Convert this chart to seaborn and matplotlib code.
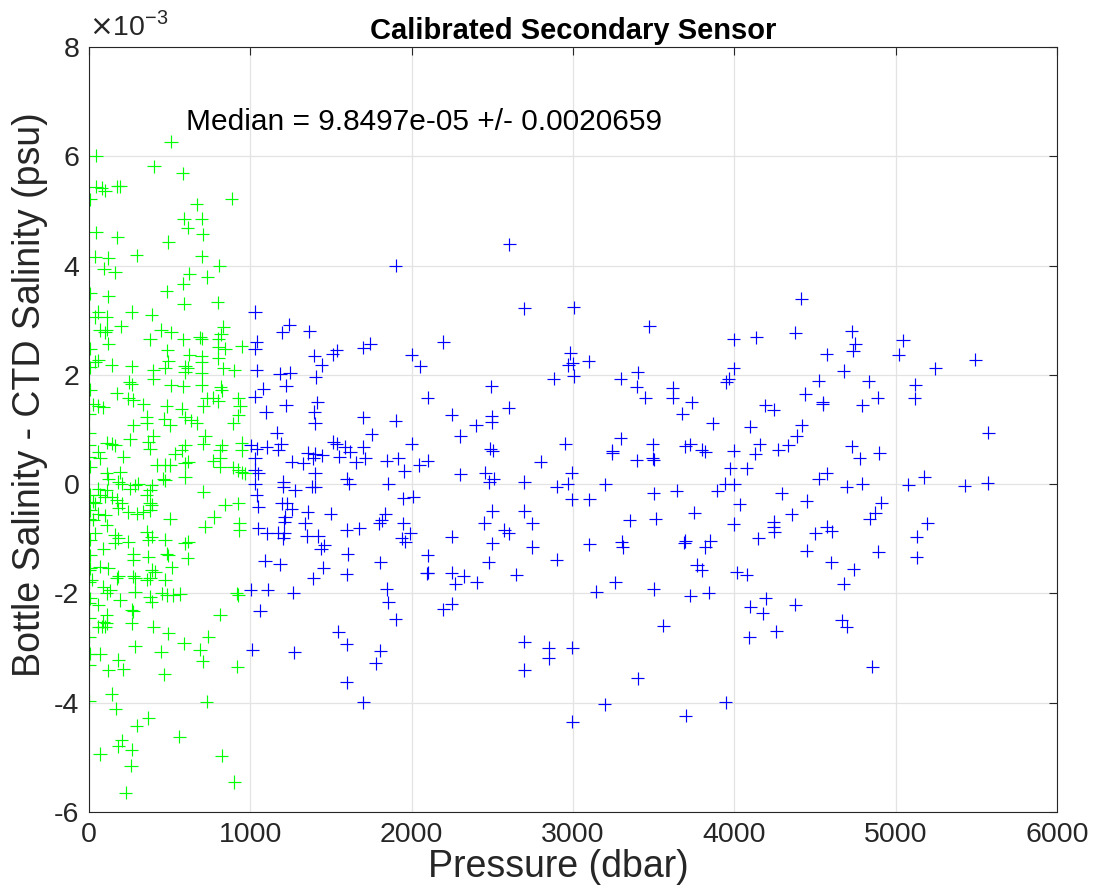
import numpy as np
import pandas as pd
import matplotlib
matplotlib.use("Agg")
import matplotlib.pyplot as plt
import seaborn as sns

# --- data (salinity differences in units of 1e-3 psu) ---
# shallow bottles (green)
green_pres = [508, 43, 403, 581, 43, 79, 99, 175, 192, 6,
              885, 668, 589, 698, 612, 705, 43, 175, 492, 296,
              698, 37, 120, 808, 93, 161, 622, 585, 733, 6,
              120, 482, 589, 798, 58, 37, 110, 265, 389, 198,
              68, 110, 99, 446, 508, 833, 818, 802, 688, 698,
              585, 378, 120, 946, 843, 802, 6, 485, 622, 698,
              802, 58, 37, 141, 265, 492, 471, 595, 612, 595,
              698, 698, 833, 901, 399, 399, 6, 250, 265, 508,
              585, 698, 816, 822, 6, 172, 244, 275, 730, 771,
              802, 337, 482, 709, 926, 936, 27, 58, 89, 0,
              575, 595, 632, 668, 358, 358, 467, 502, 926, 895,
              275, 0, 399, 368, 254, 719, 709, 110, 141, 161,
              0, 595, 575, 822, 812, 946, 946, 378, 58, 68,
              213, 533, 771, 812, 895, 926, 946, 967, 420, 471,
              502, 595, 616, 6, 0, 110, 120, 192, 461, 595,
              812,
              182, 203, 110, 58, 285, 306, 254, 389, 378, 471,
              709, 6, 27, 0, 37, 68, 99, 141, 172, 203,
              182, 244, 296, 337, 378, 358, 378, 389, 843, 926,
              6, 58, 99, 0, 0, 27, 502, 775, 110, 719,
              932, 932, 37, 6, 161, 182, 161, 244, 358, 389,
              368, 471, 595, 616, 89, 275, 275, 368, 482, 492,
              612, 6, 68, 120, 6, 0, 389, 409, 378, 513,
              182, 172, 275, 285, 358, 471, 17, 0, 89, 130,
              110, 285, 451, 482, 523, 564, 378, 389, 6, 0,
              58, 192, 915, 926, 265, 275, 110, 0, 812, 89,
              110, 58, 79, 99, 265, 399, 492, 740, 0, 6,
              285, 446, 589, 688, 705, 68, 182, 213, 120, 919,
              0, 467, 141, 0, 730, 165, 368, 296, 560, 203,
              182, 265, 68, 822, 260, 901, 227]
green_diff = [6.27, 6.01, 5.82, 5.69, 5.44, 5.42, 5.37, 5.45, 5.45, 5.21,
              5.22, 5.12, 4.86, 4.86, 4.69, 4.57, 4.61, 4.52, 4.43, 4.19,
              4.17, 4.16, 4.14, 4.00, 3.94, 3.88, 3.85, 3.67, 3.79, 3.49,
              3.44, 3.53, 3.30, 3.33, 3.15, 3.06, 3.06, 3.15, 3.10, 2.89,
              2.82, 2.83, 2.78, 2.82, 2.78, 2.88, 2.74, 2.66, 2.69, 2.66,
              2.65, 2.65, 2.57, 2.52, 2.48, 2.51, 2.48, 2.45, 2.37, 2.34,
              2.30, 2.27, 2.24, 2.18, 2.16, 2.25, 2.13, 2.16, 2.13, 2.05,
              2.24, 2.03, 2.12, 2.08, 2.08, 1.93, 2.14, 1.87, 1.83, 1.81,
              1.79, 1.81, 1.78, 1.72, 1.73, 1.66, 1.57, 1.54, 1.57, 1.58,
              1.52, 1.46, 1.43, 1.43, 1.57, 1.43, 1.46, 1.43, 1.41, 1.29,
              1.38, 1.22, 1.17, 1.12, 1.23, 1.11, 1.20, 1.08, 1.26, 1.11,
              1.08, 0.93, 0.88, 0.77, 0.82, 0.88, 0.74, 0.76, 0.74, 0.71,
              0.71, 0.71, 0.62, 0.71, 0.62, 0.76, 0.62, 0.65, 0.59, 0.47,
              0.50, 0.56, 0.43, 0.47, 0.31, 0.26, 0.22, 0.20, 0.35, 0.35,
              0.35, 0.38, 0.41, 0.32, 0.50, 0.20, 0.10, 0.22, 0.10, 0.13,
              0.32,
              0.04, 0.01, -0.11, -0.08, -0.02, 0.01, -0.08, -0.02, -0.11, 0.07,
              -0.14, -0.20, -0.32, -0.35, -0.35, -0.20, -0.23, -0.24, -0.29, -0.35,
              -0.44, -0.51, -0.54, -0.51, -0.48, -0.20, -0.35, -0.38, -0.38, -0.35,
              -0.48, -0.54, -0.57, -0.63, -0.66, -0.65, -0.63, -0.60, -0.75, -0.78,
              -0.72, -0.84, -0.90, -1.02, -0.93, -0.99, -1.07, -1.05, -0.87, -0.96,
              -1.02, -1.02, -1.08, -1.05, -1.18, -1.27, -1.38, -1.33, -1.27, -1.30,
              -1.36, -1.30, -1.51, -1.54, -1.54, -1.57, -1.57, -1.60, -1.72, -1.52,
              -1.69, -1.72, -1.69, -1.72, -1.75, -1.75, -1.75, -1.79, -1.88, -1.94,
              -2.00, -1.97, -2.00, -2.03, -2.03, -2.01, -2.06, -2.15, -2.09, -2.18,
              -2.21, -2.12, -2.00, -2.03, -2.30, -2.33, -2.39, -2.45, -2.39, -2.52,
              -2.55, -2.61, -2.61, -2.61, -2.55, -2.61, -2.73, -2.79, -2.79, -3.10,
              -2.97, -3.07, -2.91, -3.03, -3.24, -3.11, -3.22, -3.39, -3.41, -3.34,
              -3.31, -3.48, -3.84, -3.96, -3.98, -4.11, -4.28, -4.42, -4.62, -4.69,
              -4.80, -4.86, -4.94, -4.97, -5.15, -5.45, -5.65]

# deep bottles (blue)
blue_pres = [1901, 2604, 2699, 3003, 1536, 1511, 1701, 1742, 2197, 2000,
             2052, 2982, 2971, 2999, 2879, 3003, 2492, 2098, 2602, 1701,
             1901, 2248, 2496, 2496, 2399, 1752, 2300, 2000, 2951, 1515,
             1536, 1587, 1618, 1552, 1701, 1711, 1655, 2486, 2503, 1846,
             1918, 1953, 2048, 2099, 2300, 2800, 2455, 2507, 2482, 2992,
             1598, 1612, 1856, 2697, 2899, 2966,
             1949, 2011, 1835, 1814, 1800, 1598, 1676, 1949, 1990, 1939,
             1959, 2248, 2500, 2697, 2449, 2573, 2600, 2748, 2500, 2748,
             2992, 1604, 1804, 2100, 2100, 2095, 1598, 2248, 2269, 2321,
             2403, 2476, 2647, 2899, 1846, 1856, 1901, 2197, 2248, 1546,
             1598, 1804, 1777, 1598, 1701, 2699, 2699, 2848, 2848, 2996,
             2996,
             3096, 4414, 3472, 3995, 4135, 4377, 3995, 3964, 3949, 4573,
             3296, 3401, 3395, 3447, 3618, 3618, 3736, 3678, 3866, 4098,
             4191, 4243, 4439, 4522, 4548, 4548, 4418, 4387, 3296, 3244,
             3244, 3494, 3494, 3500, 3395, 3695, 3726, 3798, 3819, 3995,
             4156, 4129, 4077, 3974, 4273, 4335, 4522, 4573, 3199,
             3499, 3643, 3895, 3943, 3999, 4294, 3100, 3350, 3513, 3751,
             4032, 3995, 4449, 4356, 4243, 4243, 4247, 4149, 4501, 4573,
             4449, 3100, 3302, 3308, 3695, 3689, 3850, 3819, 3768, 3798,
             4015, 4077, 3261, 3143, 3499, 3726, 3840, 4195, 4098, 4175,
             4377, 3560, 4092, 4259, 3401, 3195, 3947, 3699,
             4728, 4749, 4735, 5045, 5018, 5493, 5245, 4677, 4832, 5121,
             5117, 4794, 4889, 5575, 4728, 4776, 4898,
             4697, 4794, 5079, 5177, 5427, 5569, 4910, 4873, 4838, 5197,
             5131, 5131, 4604, 4893, 4600, 4739, 4677, 4666, 4697, 4856,
             1029, 1240, 1198, 1364, 1040, 1029, 1397, 1443, 1040, 1184,
             1246, 1405, 1081, 1221, 1029, 1221, 1415, 1397, 1401, 1097,
             1163, 1002, 1040, 1101, 1190, 1174, 1029, 1356, 1401, 1446,
             1391, 1257, 1329, 1029, 1050, 1401,
             1029, 1040, 1050, 1381, 1401, 1205, 1205, 1277, 1195, 1226,
             1257, 1215, 1356, 1498, 1211, 1339, 1050, 1101, 1170, 1211,
             1205, 1349, 1422, 1459, 1438, 1091, 1184, 1453, 1391, 1002,
             1108, 1267, 1060, 1013, 1273]
blue_diff = [4.00, 4.39, 3.22, 3.24, 2.45, 2.38, 2.50, 2.57, 2.60, 2.37,
             2.16, 2.40, 2.18, 2.21, 1.93, 1.98, 1.79, 1.58, 1.40, 1.22,
             1.16, 1.27, 1.24, 1.13, 1.08, 0.91, 0.88, 0.74, 0.74, 0.77,
             0.74, 0.68, 0.59, 0.50, 0.68, 0.47, 0.40, 0.65, 0.61, 0.43,
             0.47, 0.24, 0.35, 0.43, 0.18, 0.41, 0.21, 0.10, 0.04, 0.21,
             0.10, 0.01, 0.01, 0.04, -0.05, 0.01,
             -0.26, -0.23, -0.54, -0.66, -0.72, -0.84, -0.81, -0.72, -0.90, -0.99,
             -1.05, -0.96, -0.49, -0.49, -0.71, -0.84, -0.90, -0.72, -1.08, -1.15,
             -0.28, -1.28, -1.43, -1.30, -1.62, -1.63, -1.65, -1.62, -1.82, -1.68,
             -1.80, -1.43, -1.66, -1.38, -1.92, -2.16, -2.47, -2.29, -2.19, -2.70,
             -2.93, -3.05, -3.28, -3.63, -3.99, -2.88, -3.40, -2.99, -3.19, -2.99,
             -4.35,
             2.25, 3.39, 2.89, 2.65, 2.69, 2.77, 2.12, 1.93, 1.87, 2.38,
             1.93, 2.05, 1.78, 1.58, 1.76, 1.58, 1.50, 1.29, 1.11, 1.05,
             1.44, 1.36, 1.65, 1.89, 1.50, 1.46, 1.08, 0.88, 0.84, 0.61,
             0.57, 0.73, 0.47, 0.45, 0.44, 0.69, 0.73, 0.63, 0.59, 0.61,
             0.73, 0.56, 0.29, 0.29, 0.63, 0.71, 0.10, 0.20, 0.00,
             -0.17, -0.12, -0.12, 0.01, 0.00, -0.17, -0.28, -0.66, -0.63, -0.52,
             -0.37, -0.73, -0.31, -0.55, -0.69, -0.78, -0.87, -0.99, -0.90, -0.78,
             -1.22, -1.10, -1.05, -1.15, -1.04, -1.07, -1.04, -1.15, -1.48, -1.57,
             -1.61, -1.66, -1.80, -1.97, -1.92, -2.04, -1.99, -2.09, -2.24, -2.36,
             -2.21, -2.59, -2.80, -2.69, -3.55, -4.03, -3.99, -4.24,
             2.80, 2.57, 2.44, 2.63, 2.37, 2.28, 2.12, 2.07, 1.88, 1.82,
             1.57, 1.44, 1.58, 0.94, 0.69, 0.47, 0.57,
             -0.05, 0.01, -0.01, 0.13, -0.03, 0.02, -0.34, -0.52, -0.63, -0.72,
             -0.96, -1.34, -0.86, -1.24, -1.43, -1.56, -1.82, -2.49, -2.61, -3.34,
             3.15, 2.92, 2.78, 2.80, 2.61, 2.48, 2.35, 2.18, 2.08, 2.02,
             2.04, 1.96, 1.75, 1.80, 1.60, 1.44, 1.50, 1.32, 1.11, 1.32,
             0.94, 0.71, 0.65, 0.68, 0.74, 0.63, 0.47, 0.57, 0.55, 0.53,
             0.47, 0.41, 0.38, 0.26, 0.20, 0.20,
             0.01, -0.20, -0.41, -0.05, -0.05, 0.04, -0.05, -0.11, -0.35, -0.35,
             -0.46, -0.60, -0.51, -0.54, -0.69, -0.72, -0.81, -0.90, -0.89, -0.90,
             -0.99, -0.95, -0.95, -1.12, -1.18, -1.40, -1.47, -1.53, -1.72, -1.93,
             -1.93, -1.99, -2.32, -3.03, -3.08]

assert len(green_pres) == len(green_diff)
assert len(blue_pres) == len(blue_diff)

median_txt = "Median = 9.8497e-05 +/- 0.0020659"

df = pd.DataFrame({
    "pressao": green_pres + blue_pres,
    "delta": green_diff + blue_diff,
    "grupo": ["raso"] * len(green_pres) + ["fundo"] * len(blue_pres),
})

# --- style ---
sns.set_style("white")
plt.rcParams["font.family"] = ["Liberation Sans", "DejaVu Sans"]
plt.rcParams["axes.unicode_minus"] = False

fig = plt.figure(figsize=(10.98, 8.92), dpi=100)
ax = fig.add_axes([0.0811, 0.0897, 0.8816, 0.8576])

sns.scatterplot(data=df, x="pressao", y="delta", hue="grupo",
                palette={"raso": (0, 1, 0), "fundo": (0, 0, 1)},
                marker="+", s=90, linewidth=0.85, legend=False, ax=ax)

ax.set_xlim(0, 6000)
ax.set_ylim(-6, 8)
ax.set_xticks(np.arange(0, 6001, 1000))
ax.set_yticks(np.arange(-6, 9, 2))
ax.grid(True, color="#e3e3e3", linewidth=0.9)
ax.set_axisbelow(True)

for sp in ax.spines.values():
    sp.set_color("#262626")
    sp.set_linewidth(0.8)
    sp.set_visible(True)

ax.tick_params(direction="in", length=6, width=0.8, colors="#262626",
               labelsize=20.5, top=True, right=True, pad=7)

ax.set_xlabel("Pressure (dbar)", fontsize=27, color="#262626")
ax.set_ylabel("Bottle Salinity - CTD Salinity (psu)", fontsize=27,
              color="#262626")
# MATLAB puts the labels a little off centre
ax.xaxis.set_label_coords(0.4845, -0.049)
ax.yaxis.set_label_coords(-0.042, 0.546)

ax.set_title("Calibrated Secondary Sensor", fontsize=21, fontweight="bold",
             color="black", pad=6)
ax.text(0.0, 1.008, r"$\times$10$^{\mathregular{-3}}$", transform=ax.transAxes,
        fontsize=20.5, color="#262626", ha="left", va="bottom")
ax.text(600, 6.63, median_txt, fontsize=21.5, color="black",
        ha="left", va="center")

plt.savefig("out.png", dpi=100)
